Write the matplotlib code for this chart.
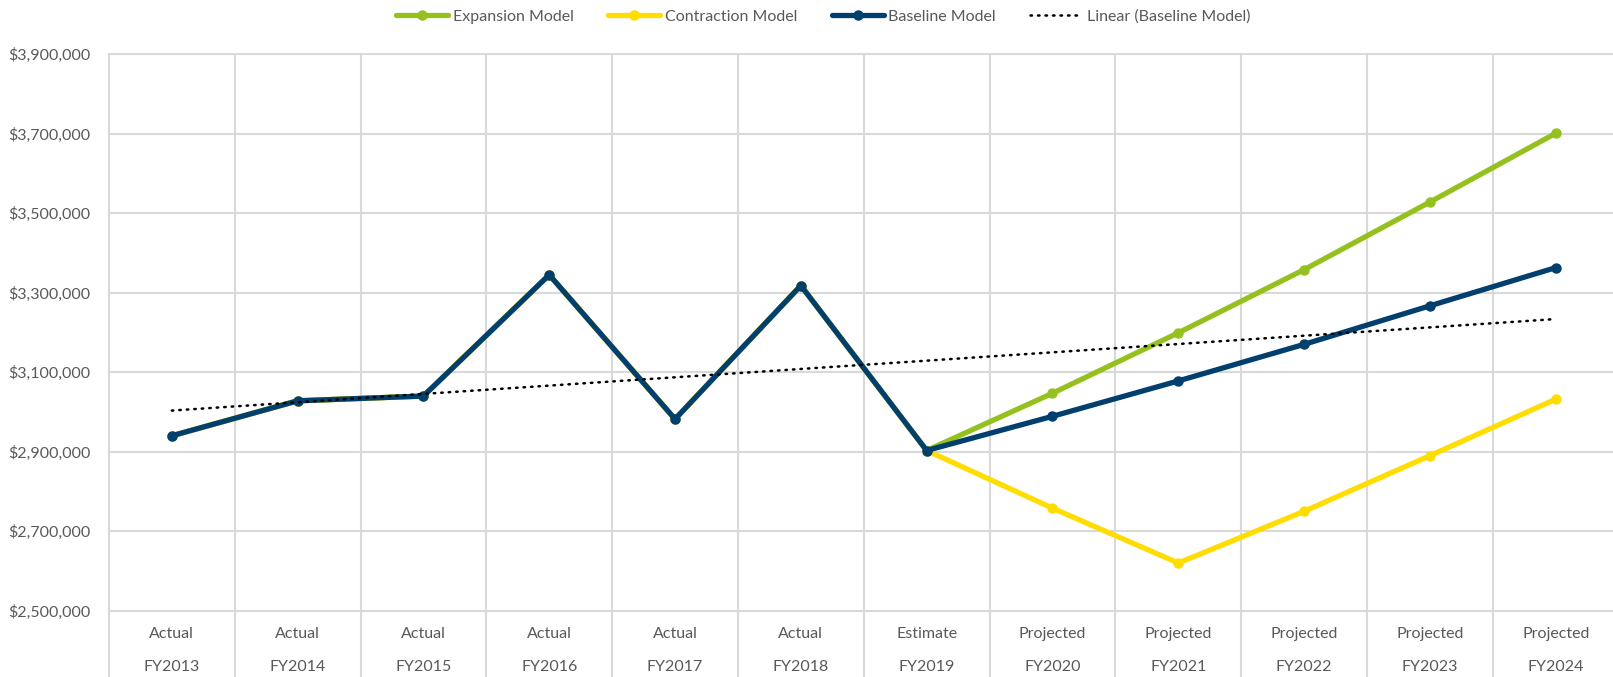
import numpy as np
import matplotlib
matplotlib.use("Agg")
import matplotlib.pyplot as plt
from matplotlib.lines import Line2D
from matplotlib.ticker import FuncFormatter
import matplotlib.transforms as mtransforms

plt.rcParams["font.family"] = ["Lato", "DejaVu Sans"]

# Category labels (two levels)
status = ["Actual", "Actual", "Actual", "Actual", "Actual", "Actual",
          "Estimate", "Projected", "Projected", "Projected", "Projected", "Projected"]
years = ["FY2013", "FY2014", "FY2015", "FY2016", "FY2017", "FY2018",
         "FY2019", "FY2020", "FY2021", "FY2022", "FY2023", "FY2024"]

# Revenue scenarios (dollars)
baseline = [2940000, 3028000, 3040000, 3345000, 2982000, 3318000,
            2903000, 2989000, 3078000, 3170000, 3267000, 3363000]
expansion = [2940000, 3028000, 3040000, 3345000, 2982000, 3318000,
             2903000, 3047000, 3199000, 3358000, 3528000, 3701000]
contraction = [2940000, 3028000, 3040000, 3345000, 2982000, 3318000,
               2903000, 2758000, 2620000, 2750000, 2890000, 3032000]

y_ticks = [2500000, 2700000, 2900000, 3100000, 3300000, 3500000, 3700000, 3900000]

GREEN = "#95C11F"
YELLOW = "#FFDD00"
NAVY = "#003F6E"
GRID = "#D9D9D9"
TEXT = "#595959"
FS = 11.5

W, H = 1613, 677
fig = plt.figure(figsize=(W / 100, H / 100), dpi=100)
left_px, right_px, top_px, bottom_px = 108.9, 1618.6, 54.2, 610.7
ax = fig.add_axes([left_px / W, 1 - bottom_px / H,
                   (right_px - left_px) / W, (bottom_px - top_px) / H])

x = np.arange(len(years))
ax.set_xlim(-0.5, len(years) - 0.5)
ax.set_ylim(y_ticks[0], y_ticks[-1])

# Horizontal gridlines
for yv in y_ticks:
    ax.axhline(yv, color=GRID, lw=1.5, zorder=0, clip_on=False)

# Category dividers, extending down through the label area
drop = -(H - bottom_px) / (bottom_px - top_px)
trans = mtransforms.blended_transform_factory(ax.transData, ax.transAxes)
for b in np.arange(len(years) + 1) - 0.5:
    ax.add_line(Line2D([b, b], [drop, 1], transform=trans, color=GRID,
                       lw=1.5, zorder=0, clip_on=False))

lw, ms = 3.8, 6.5
ax.plot(x, expansion, color=GREEN, lw=lw, marker="o", ms=ms,
        label="Expansion Model", zorder=3, solid_capstyle="round")
ax.plot(x, contraction, color=YELLOW, lw=lw, marker="o", ms=ms,
        label="Contraction Model", zorder=3, solid_capstyle="round")
ax.plot(x, baseline, color=NAVY, lw=lw, marker="o", ms=ms,
        label="Baseline Model", zorder=4, solid_capstyle="round")

# Linear trendline on the baseline series
coef = np.polyfit(x, baseline, 1)
ax.plot(x, np.polyval(coef, x), color="black", lw=1.8,
        linestyle=(0, (0.6, 2.4)), dash_capstyle="round",
        label="Linear (Baseline Model)", zorder=5)

for s in ax.spines.values():
    s.set_visible(False)

ax.set_yticks(y_ticks)
ax.yaxis.set_major_formatter(FuncFormatter(lambda v, p: f"${v:,.0f}"))
ax.tick_params(axis="y", length=0, pad=13, labelsize=FS, labelcolor=TEXT)
ax.set_xticks([])

for i in x:
    ax.annotate(status[i], xy=(i, 0), xycoords=trans, xytext=(0, -23.5),
                textcoords="offset pixels", ha="center", va="center",
                fontsize=FS, color=TEXT)
    ax.annotate(years[i], xy=(i, 0), xycoords=trans, xytext=(0, -56.5),
                textcoords="offset pixels", ha="center", va="center",
                fontsize=FS, color=TEXT)

fig.legend(loc="center", bbox_to_anchor=(0.5105, 1 - 16.5 / H), ncol=4,
           frameon=False, fontsize=FS, handlelength=3.25, handletextpad=0.3,
           columnspacing=2.15, labelcolor=TEXT, borderaxespad=0)

fig.savefig("out.png", dpi=100)
